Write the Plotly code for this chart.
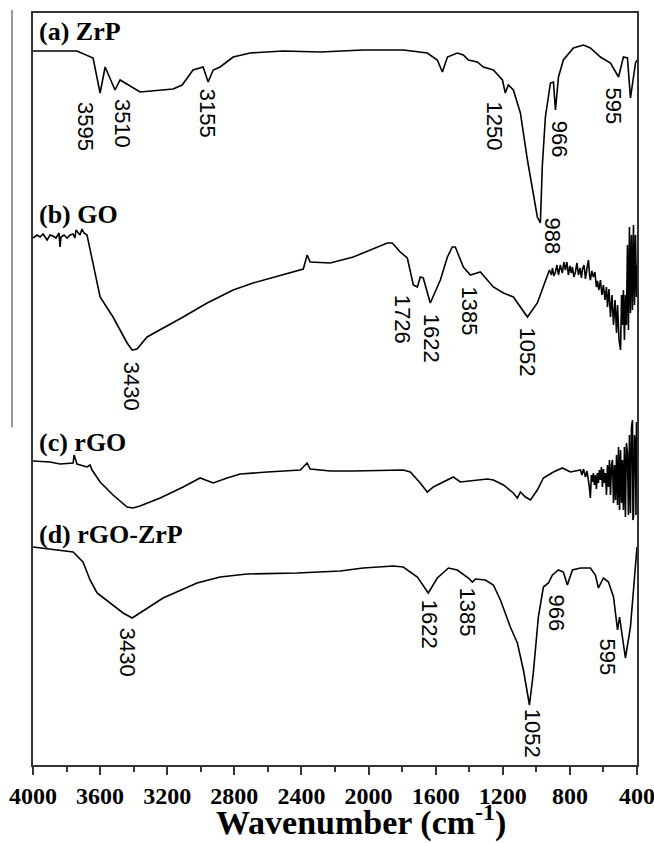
import plotly.graph_objects as go

# ---- data (wavenumber in cm-1, transmittance in arbitrary offset units) ----
zrp_wn = [4000, 3738, 3642, 3600, 3570, 3511, 3481, 3362, 3165, 3111, 3046, 2986, 2956, 2926,
          2885, 2807, 2706, 2509, 2288, 2032, 1793, 1650, 1590, 1560, 1530, 1471, 1435, 1405,
          1352, 1316, 1256, 1202, 1185, 1167, 1137, 1095, 1053, 1018, 994, 976, 964, 946, 916,
          898, 886, 868, 839, 779, 719, 678, 618, 558, 510, 481, 457, 439, 409, 400]
zrp_t = [714, 714, 707, 672, 698, 675, 685, 673, 676, 680, 695, 698, 683, 695,
         698, 708, 712, 714, 713, 715, 715, 712, 705, 693, 708, 712, 710, 705,
         703, 698, 695, 685, 672, 680, 675, 652, 605, 572, 548, 542, 600, 648, 682,
         683, 655, 688, 705, 717, 720, 717, 708, 702, 688, 708, 707, 667, 702, 705]

go_wn = [4000, 3976, 3958, 3940, 3916, 3898, 3881, 3863, 3845, 3839, 3833, 3815, 3797, 3779,
         3761, 3750, 3744, 3732, 3720, 3708, 3696, 3678, 3642, 3600, 3523,
         3439, 3409, 3380, 3320, 3242, 3105, 2962, 2807, 2688, 2509, 2389, 2366, 2348, 2228,
         2091, 1888, 1859, 1811, 1769, 1733, 1709, 1692, 1674, 1632, 1572, 1530, 1501, 1483,
         1435, 1393, 1334, 1256, 1196, 1137, 1095, 1053, 994,
         934, 922, 910, 904, 895, 886, 877, 868, 857, 845, 836, 827, 818, 809, 800, 791, 785,
         776, 767, 758, 749, 740, 731, 725, 716, 707, 698, 689, 683, 678, 669, 660, 651, 642,
         636, 627, 618, 609, 600, 591, 582, 576, 567, 558, 549, 540, 531, 522, 516, 507, 498,
         492, 487, 481, 475, 469, 463, 457, 451, 445, 439, 433, 427, 421, 415, 409, 403, 400]
go_t = [527, 530, 528, 531, 525, 530, 529, 527, 532, 518, 528, 530, 527, 530,
        531, 527, 535, 533, 530, 536, 532, 530, 502, 468, 448,
        422, 415, 416, 428, 435, 448, 462, 475, 482, 490, 496, 510, 503, 502,
        508, 522, 522, 513, 507, 480, 478, 488, 487, 462, 485, 508, 518, 518,
        498, 490, 493, 478, 472, 468, 458, 448, 462,
        488, 495, 490, 497, 489, 493, 500, 490, 500, 492, 503, 495, 503, 490, 499, 492, 498,
        488, 493, 502, 490, 497, 487, 496, 500, 486, 497, 505, 490, 485, 494, 488, 493, 478,
        484, 475, 485, 470, 480, 465, 478, 458, 476, 448, 470, 440, 465, 432, 460, 425, 415,
        470, 440, 475, 425, 470, 440, 520, 435, 538, 452, 530, 455, 540, 460, 530, 468, 500]

rgo_wn = [4000, 3899, 3839, 3761, 3755, 3738, 3678, 3660, 3648, 3600, 3523, 3439, 3404, 3362,
          3242, 3105, 3004, 2926, 2843, 2765, 2604, 2407, 2366, 2348, 2228, 2091, 1793, 1751,
          1692, 1650, 1614, 1530, 1495, 1453, 1292, 1256, 1196, 1137, 1113, 1095, 1065, 1035,
          994, 958, 898, 845, 797,
          737, 728, 719, 713, 707, 698, 689, 684, 678, 672, 666, 660, 654, 648, 642, 636, 630,
          624, 618, 612, 606, 600, 594, 588, 582, 576, 570, 564, 558, 552, 546, 540, 534, 528,
          522, 516, 510, 504, 498, 492, 487, 481, 475, 469, 463, 457, 451, 445, 439, 433, 427,
          424, 421, 415, 409, 406, 403, 400]
rgo_t = [304, 303, 301, 302, 310, 301, 298, 300, 295, 283, 270, 258, 257, 259,
         267, 278, 287, 282, 287, 291, 293, 295, 302, 296, 294, 294, 295, 293,
         282, 273, 278, 285, 288, 283, 286, 285, 280, 272, 267, 273, 268, 265,
         275, 287, 293, 297, 293,
         295, 290, 296, 291, 288, 294, 285, 278, 267, 290, 283, 292, 280, 290, 276, 292, 282,
         295, 285, 298, 278, 296, 282, 292, 270, 300, 278, 305, 270, 300, 305, 262, 300, 265,
         310, 260, 318, 255, 315, 262, 305, 255, 318, 248, 322, 312, 250, 330, 252, 338, 345,
         245, 248, 330, 318, 250, 343, 300]

rgozrp_wn = [4000, 3761, 3702, 3660, 3618, 3541, 3463, 3409, 3362, 3225, 3022, 2885, 2724, 2425,
             2169, 2032, 1853, 1793, 1709, 1644, 1590, 1524, 1471, 1405, 1381, 1363, 1304, 1256,
             1214, 1155, 1113, 1077, 1041, 1018, 988, 958, 928, 904, 868, 839, 815, 785, 737,
             678, 648, 630, 600, 570, 540, 516, 504, 469, 439, 400]
rgozrp_t = [218, 213, 203, 185, 172, 162, 152, 147, 152, 167, 182, 188, 191, 192,
            194, 197, 199, 198, 188, 172, 187, 197, 195, 187, 183, 186, 185, 180,
            165, 138, 122, 95, 60, 92, 148, 178, 182, 190, 195, 193, 180, 195, 197,
            197, 190, 177, 187, 183, 168, 135, 148, 107, 138, 218]

series_names = ["(a) ZrP", "(b) GO", "(c) rGO", "(d) rGO-ZrP"]
series_wn = [zrp_wn, go_wn, rgo_wn, rgozrp_wn]
series_t = [zrp_t, go_t, rgo_t, rgozrp_t]
label_y = [734, 551, 323, 231]

# peak labels: text, x (cm-1), y
peak_text = ["3595", "3510", "3155", "1250", "966", "595", "988",
             "3430", "1726", "1622", "1385", "1052",
             "3430", "1622", "1385", "966", "595", "1052"]
peak_x = [3684, 3463, 2956, 1244, 857, 540, 898,
          3409, 1793, 1620, 1393, 1047,
          3433, 1632, 1405, 874, 570, 1018]
peak_y = [639, 642, 652, 639, 626, 659, 529,
          379, 446, 427, 454, 413,
          113, 141, 153, 152, 108, 32]

fig = go.Figure()
for name, wn, t in zip(series_names, series_wn, series_t):
    fig.add_trace(go.Scatter(x=wn, y=t, mode="lines", name=name,
                             line=dict(color="black", width=1.6), showlegend=False))

serif = "Liberation Serif, Times New Roman, serif"
sans = "Liberation Sans, Arial, sans-serif"

annotations = []
for name, y in zip(series_names, label_y):
    annotations.append(dict(x=3976, y=y, xref="x", yref="y", text="<b>%s</b>" % name,
                            showarrow=False, xanchor="left", yanchor="middle",
                            font=dict(family=serif, size=26, color="black")))
for txt, x, y in zip(peak_text, peak_x, peak_y):
    annotations.append(dict(x=x, y=y, xref="x", yref="y", text=txt, textangle=90,
                            showarrow=False, xanchor="center", yanchor="middle",
                            font=dict(family=sans, size=22, color="black")))
annotations.append(dict(x=0.543, y=-0.074, xref="paper", yref="paper",
                        text="<b>Wavenumber (cm<sup>-1</sup>)</b>", showarrow=False,
                        xanchor="center", yanchor="middle",
                        font=dict(family=serif, size=34, color="black")))

fig.update_layout(
    width=654, height=843,
    margin=dict(l=33, r=17, t=13, b=78),
    paper_bgcolor="white", plot_bgcolor="white",
    annotations=annotations,
    shapes=[dict(type="line", xref="paper", yref="paper", x0=-0.0348, x1=-0.0348,
                 y0=1.004, y1=0.449, line=dict(color="#777777", width=1.5))],
)
fig.update_xaxes(range=[4000, 400], tickmode="array", automargin=False,
                 tickvals=[4000, 3600, 3200, 2800, 2400, 2000, 1600, 1200, 800, 400],
                 ticks="outside", ticklen=8, tickwidth=1.5, tickcolor="#333333",
                 minor=dict(ticks="outside", ticklen=5, tickwidth=1.5, tickcolor="#333333",
                            tickvals=[3800, 3400, 3000, 2600, 2200, 1800, 1400, 1000, 600]),
                 showline=True, linecolor="#333333", linewidth=1.5, mirror=True,
                 showgrid=False, zeroline=False, ticklabeloverflow="allow",
                 tickfont=dict(family=serif, size=24, color="black", weight="bold"))
fig.update_yaxes(range=[0, 752], showticklabels=False, ticks="", showgrid=False,
                 automargin=False,
                 zeroline=False, showline=True, linecolor="#333333", linewidth=1.5, mirror=True)

fig.write_html("out.html")
